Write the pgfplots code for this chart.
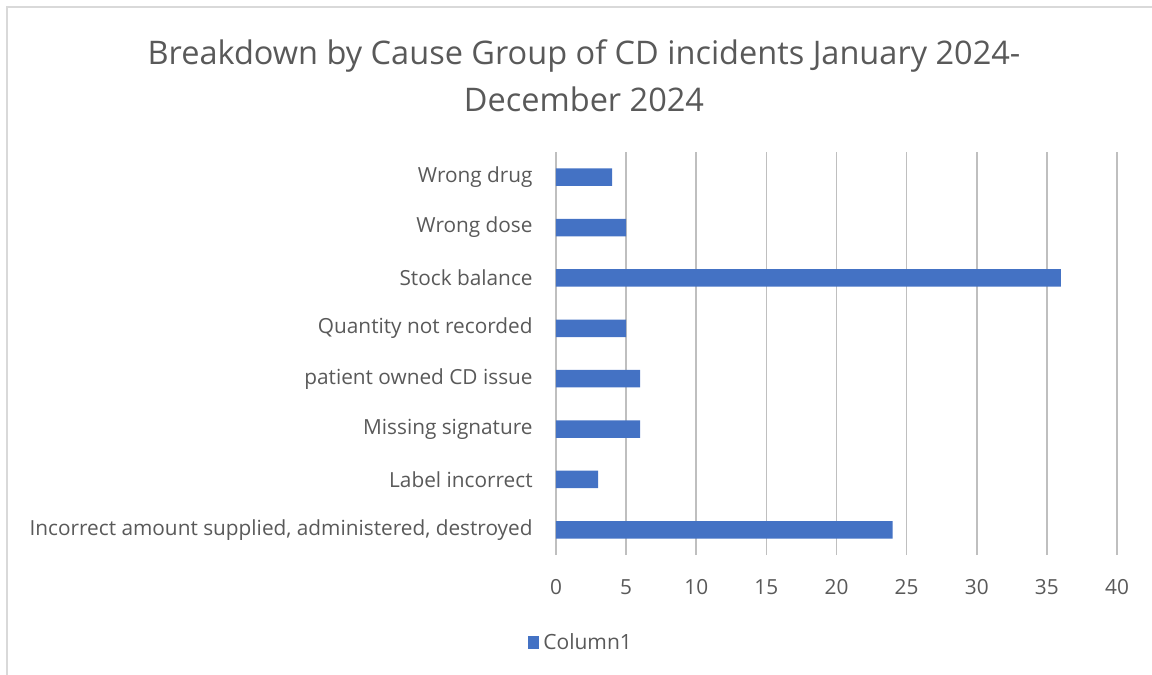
\documentclass[border=0pt]{standalone}
\usepackage{pgfplots}
\pgfplotsset{compat=1.18}
\usepackage{fontspec}
\setmainfont{Open Sans}
\definecolor{barblue}{HTML}{4472C4}
\definecolor{txt}{HTML}{595959}
\definecolor{grid}{HTML}{D9D9D9}
\begin{document}
\begin{tikzpicture}
\useasboundingbox (0,0) rectangle (576pt,337.5pt);
\draw[grid, line width=0.8pt] (3.5pt,0) -- (3.5pt,334pt) -- (576pt,334pt);
\node[txt, font=\fontsize{16.25}{20}\selectfont, align=center] at (292pt,309.5pt) {Breakdown by Cause Group of CD incidents January 2024-};
\node[txt, font=\fontsize{16.25}{20}\selectfont, align=center] at (292pt,288pt) {December 2024};
\begin{axis}[
  at={(278pt,60pt)}, anchor=south west,
  scale only axis, width=280.5pt, height=201.5pt,
  xmin=0, xmax=40, ymin=-0.5, ymax=7.5,
  xtick={0,5,...,40},
  ytick={0,...,7},
  yticklabels={{Incorrect amount supplied, administered, destroyed},Label incorrect,Missing signature,patient owned CD issue,Quantity not recorded,Stock balance,Wrong dose,Wrong drug},
  axis line style={draw=none},
  major tick length=0pt,
  xmajorgrids, major grid style={grid, line width=0.8pt},
  ymajorgrids=false,
  xbar, bar width=8.75pt,
  ticklabel style={txt, font=\fontsize{10.4}{12}\selectfont},
  yticklabel style={anchor=east, inner sep=0pt, xshift=-11.5pt},
  xticklabel style={anchor=center, inner sep=0pt, yshift=-16pt},
  /pgf/number format/assume math mode=true,
  legend style={draw=none, fill=none, at={(-0.05,-0.218)}, anchor=west, inner sep=0pt, font=\fontsize{10.5}{12}\selectfont, text=txt},
  legend image code/.code={\fill[barblue] (0pt,-3.25pt) rectangle (5.5pt,3.25pt);},
  legend cell align=left,
]
\addplot[fill=barblue, draw=none] coordinates {(24,0) (3,1) (6,2) (6,3) (5,4) (36,5) (5,6) (4,7)};
\addlegendentry{Column1}
\end{axis}
\end{tikzpicture}
\end{document}
